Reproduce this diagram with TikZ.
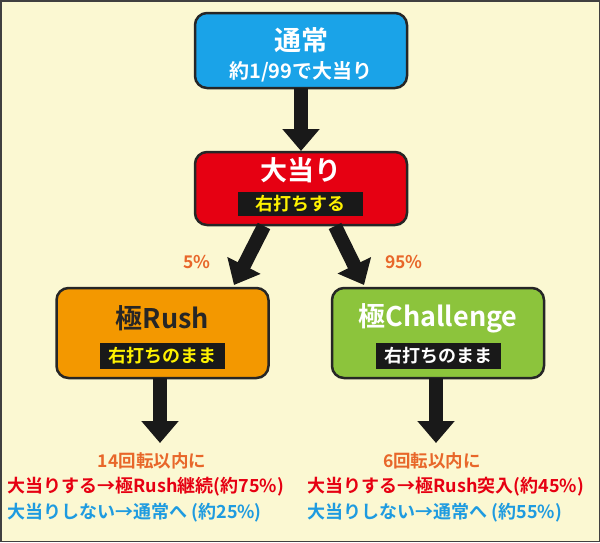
\documentclass[tikz,border=0pt]{standalone}
\usepackage{fontspec}
\newfontfamily\jp{Noto Sans CJK JP}[BoldFont={Noto Sans CJK JP Bold}]
\begin{document}
\definecolor{bg}{HTML}{FBF8D2}
\definecolor{cy}{HTML}{1AA3E8}
\definecolor{rd}{HTML}{E60012}
\definecolor{og}{HTML}{F39800}
\definecolor{gr}{HTML}{8CC43C}
\definecolor{tor}{HTML}{E8672A}
\definecolor{tbl}{HTML}{1E9BE0}
\definecolor{yl}{HTML}{FFF200}
\begin{tikzpicture}[x=1pt,y=-1pt,font=\jp\bfseries,
  box/.style={draw=black!85,line width=2.5pt,rounded corners=12pt,minimum width=212pt},
  tag/.style={fill=black!90,inner sep=2pt,font=\jp\bfseries\fontsize{18}{18}\selectfont},
  big/.style={line width=14pt,-{Triangle[length=22pt,width=36pt]},black!90},
  pct/.style={text=tor,font=\jp\bfseries\fontsize{17.5}{17.5}\selectfont},
  ln/.style={anchor=west,font=\jp\bfseries\fontsize{18}{18}\selectfont},
  ttl/.style={font=\jp\bfseries\fontsize{27}{27}\selectfont}]
\usetikzlibrary{arrows.meta}
\fill[bg,draw=black!75,line width=1.5pt] (0.75,0.75) rectangle (599.25,541.25);
\useasboundingbox (0,0) rectangle (600,542);
\node[box,fill=cy,minimum height=75pt] (n) at (301,50.5) {};
\node[ttl,text=white] (nt) at (301,40) {通常};
\node[text=white,font=\jp\bfseries\fontsize{20}{20}\selectfont] (ns) at (301,72) {約1/99で大当り};
\node[box,fill=rd,minimum height=73pt] (h) at (301,188.5) {};
\node[ttl,text=white] (ht) at (301,170) {大当り};
\node[tag,text=yl,minimum width=125pt,minimum height=24pt] (hs) at (300,204) {右打ちする};
\node[box,fill=og,minimum height=90pt] (r) at (162.5,333) {};
\node[ttl,text=black!85] (rt) at (162.5,318) {極Rush};
\node[tag,text=yl,minimum width=125pt,minimum height=26pt] (rs) at (162,356) {右打ちのまま};
\node[box,fill=gr,minimum height=90pt] (c) at (438,333) {};
\node[ttl,text=white] (ct) at (438,318) {極Challenge};
\node[tag,text=white,minimum width=125pt,minimum height=26pt] (cs) at (438,356) {右打ちのまま};
\coordinate (a1) at (301,88); \coordinate (a2) at (301,151);
\draw[big] (a1) -- (a2);
\coordinate (b1) at (264,226); \coordinate (b2) at (234,285);
\draw[big] (b1) -- (b2);
\coordinate (c1) at (335,226); \coordinate (c2) at (364,285);
\draw[big] (c1) -- (c2);
\coordinate (d1) at (160,378); \coordinate (d2) at (160,443);
\draw[big] (d1) -- (d2);
\coordinate (e1) at (436,378); \coordinate (e2) at (436,443);
\draw[big] (e1) -- (e2);
\node[pct] (p5) at (197,262) {5\%};
\node[pct] (p95) at (404,262) {95\%};
\node[pct] (l1) at (152,461) {14回転以内に};
\node[pct] (r1) at (432,461) {6回転以内に};
\node[ln,text=rd] (l2) at (4,487) {大当りする→極Rush継続(約75\%)};
\node[ln,text=tbl] (l3) at (4,513) {大当りしない→通常へ (約25\%)};
\node[ln,text=rd] (r2) at (304,487) {大当りする→極Rush突入(約45\%)};
\node[ln,text=tbl] (r3) at (304,513) {大当りしない→通常へ (約55\%)};
\end{tikzpicture}
\end{document}
